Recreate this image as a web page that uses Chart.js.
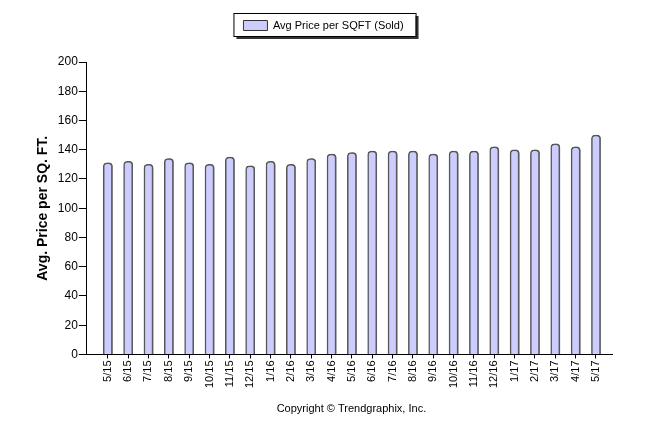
<!DOCTYPE html>
<html>
<head>
<meta charset="utf-8">
<script src="https://cdn.jsdelivr.net/npm/chart.js@4.4.0/dist/chart.umd.min.js"></script>
<style>
  html, body { margin: 0; padding: 0; background: #fff; }
  canvas { display: block; }
</style>
</head>
<body>
<canvas id="chart" width="646" height="434"></canvas>
<script>
// Data
const months = ["5/15", "6/15", "7/15", "8/15", "9/15", "10/15", "11/15", "12/15",
  "1/16", "2/16", "3/16", "4/16", "5/16", "6/16", "7/16", "8/16", "9/16", "10/16",
  "11/16", "12/16", "1/17", "2/17", "3/17", "4/17", "5/17"];
const avgPrice = [131, 132, 130, 134, 131, 130, 135, 129, 132, 130, 134, 137, 138,
  139, 139, 139, 137, 139, 139, 142, 140, 140, 144, 142, 150];
const yTicks = [0, 20, 40, 60, 80, 100, 120, 140, 160, 180, 200];

const seriesName = "Avg Price per SQFT (Sold)";
const FONT = "'Liberation Sans', Arial, sans-serif";

// extra room under the legend
const legendMargin = {
  id: "legendMargin",
  afterInit(chart) {
    const lg = chart.legend;
    const fit = lg.fit;
    lg.fit = function () {
      fit.call(this);
      this.height += 21;
    };
  }
};

// legend frame with shadow
const legendFrame = {
  id: "legendFrame",
  afterDraw(chart) {
    const lg = chart.legend;
    if (!lg || !lg.legendHitBoxes.length) return;
    const hb = lg.legendHitBoxes[0];
    const ctx = chart.ctx;
    const x = hb.left - 10, y = hb.top - 7, w = hb.width + 22, h = hb.height + 12;
    ctx.save();
    ctx.fillStyle = "#333";
    ctx.fillRect(x + 3, y + 3, w, h);
    ctx.fillStyle = "#fff";
    ctx.fillRect(x, y, w, h);
    ctx.strokeStyle = "#000";
    ctx.lineWidth = 1;
    ctx.strokeRect(x + 0.5, y + 0.5, w, h);
    ctx.restore();
    lg.draw();
  }
};

// shadow on the right of bars
const barShadow = {
  id: "barShadow",
  beforeDatasetsDraw(chart) {
    const ctx = chart.ctx;
    ctx.save();
    ctx.shadowColor = "rgba(90,90,90,0.8)";
    ctx.shadowOffsetX = 2;
    ctx.shadowOffsetY = 0;
    ctx.shadowBlur = 0;
  },
  afterDatasetsDraw(chart) {
    chart.ctx.restore();
  }
};

// copyright line
const copyright = {
  id: "copyright",
  afterDraw(chart) {
    const ctx = chart.ctx;
    const a = chart.chartArea;
    ctx.save();
    ctx.font = "11px " + FONT;
    ctx.fillStyle = "#000";
    ctx.textAlign = "center";
    ctx.textBaseline = "middle";
    ctx.fillText("Copyright \u00a9 Trendgraphix, Inc.", (a.left + a.right) / 2 + 2, 409);
    ctx.restore();
  }
};

const ctx = document.getElementById("chart").getContext("2d");
new Chart(ctx, {
  type: "bar",
  data: {
    datasets: [{
      label: seriesName,
      data: avgPrice.map((v, i) => ({ x: i, y: v })),
      backgroundColor: "#ccccff",
      borderColor: "#555",
      borderWidth: 1.5,
      borderSkipped: "bottom",
      borderRadius: { topLeft: 4, topRight: 4, bottomLeft: 0, bottomRight: 0 },
      barThickness: 9
    }]
  },
  options: {
    responsive: false,
    animation: false,
    layout: { padding: { top: 10, right: 34, bottom: 44, left: 35 } },
    plugins: {
      legend: {
        display: true,
        position: "top",
        labels: {
          color: "#000",
          font: { family: FONT, size: 11 },
          boxWidth: 24,
          boxHeight: 10,
          padding: 10,
          generateLabels(chart) {
            return [{
              text: seriesName,
              fillStyle: "#ccccff",
              strokeStyle: "#333",
              lineWidth: 1,
              datasetIndex: 0
            }];
          }
        }
      },
      tooltip: { enabled: false }
    },
    scales: {
      x: {
        type: "linear",
        offset: false,
        min: -1.03,
        max: 24.79,
        afterBuildTicks(axis) {
          axis.ticks = months.map((m, i) => ({ value: i }));
        },
        grid: { drawOnChartArea: false, offset: false, tickLength: 4, color: "#000" },
        border: { color: "#000", width: 1 },
        ticks: {
          color: "#000",
          font: { family: FONT, size: 11 },
          minRotation: 90,
          maxRotation: 90,
          padding: 2,
          autoSkip: false,
          callback: (v) => months[v]
        }
      },
      y: {
        min: 0,
        max: 200,
        afterBuildTicks(axis) {
          axis.ticks = yTicks.map(v => ({ value: v }));
        },
        grid: { drawOnChartArea: false, tickLength: 8, color: "#000" },
        border: { color: "#000", width: 1 },
        ticks: {
          color: "#000",
          font: { family: FONT, size: 12 },
          padding: 1
        },
        title: {
          display: true,
          text: "Avg. Price per SQ. FT.",
          color: "#000",
          font: { family: FONT, size: 14, weight: "bold" },
          padding: { top: 0, bottom: 5 }
        }
      }
    }
  },
  plugins: [legendMargin, barShadow, legendFrame, copyright]
});
</script>
</body>
</html>
